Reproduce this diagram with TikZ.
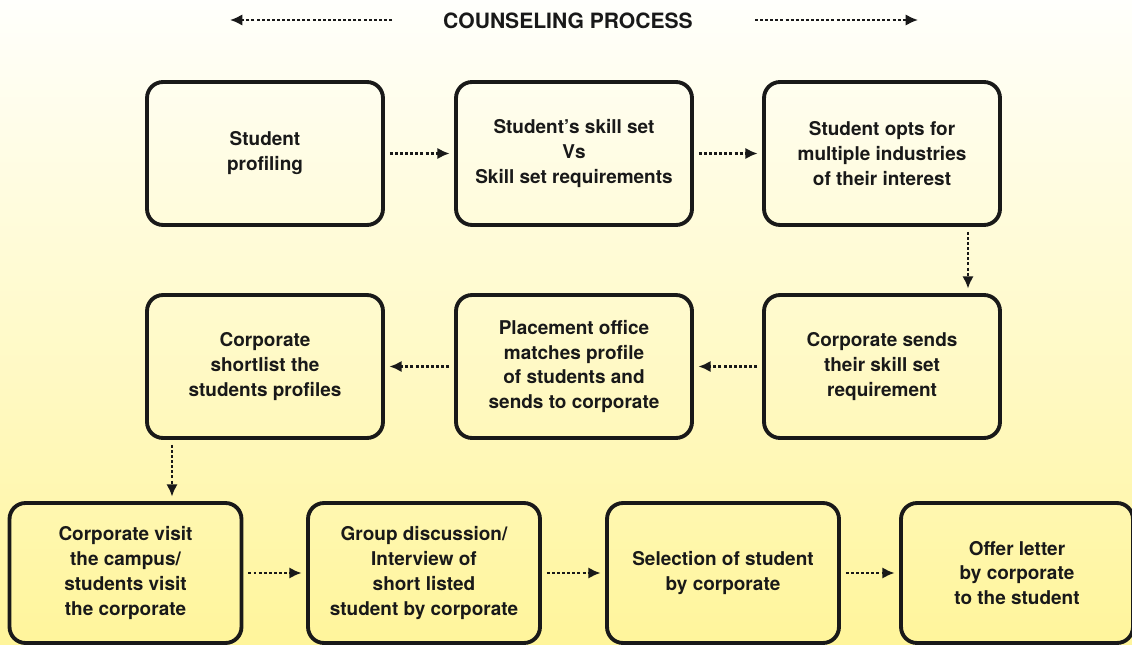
\documentclass[tikz,border=0pt]{standalone}
\usepackage{fontspec}
\setmainfont{TeX Gyre Heros}
\usetikzlibrary{arrows.meta, positioning, calc}
\definecolor{bgtop}{RGB}{255,255,252}
\definecolor{bgbot}{RGB}{255,245,155}
\definecolor{ink}{RGB}{25,25,25}
\begin{document}
\begin{tikzpicture}[
      x=0.02cm, y=-0.02cm,
      stage/.style={draw=ink, line width=2.2pt, rounded corners=0.32cm,
                    minimum width=4.72cm, minimum height=2.86cm, inner sep=0,
                    align=center, text=ink,
                    font=\fontsize{10.8}{14.2}\selectfont\bfseries},
      low/.style={stage, minimum width=4.64cm, minimum height=2.8cm},
      arr/.style={-{Latex[length=7pt,width=6.5pt]}, ink, line width=1.3pt,
                  dash pattern=on 1.7pt off 1.2pt,
                  shorten <=0.1cm, shorten >=0.09cm},
    ]

    % ---- background ----
    \shade[top color=bgtop, bottom color=bgbot] (0,0) rectangle (1132,645);
    \useasboundingbox (0,0) rectangle (1132,645);

    % ---- title ----
    \node[font=\fontsize{12}{14}\selectfont\bfseries, text=ink] (title) at (568,21)
      {COUNSELING PROCESS};
    \coordinate (tl1) at (392,20);
    \coordinate (tl2) at (230,20);
    \coordinate (tr1) at (755,20);
    \coordinate (tr2) at (918,20);
    \draw[arr, shorten <=0, shorten >=0] (tl1) -- (tl2);
    \draw[arr, shorten <=0, shorten >=0] (tr1) -- (tr2);

    % ---- row 1 ----
    \node[stage] (s1) at (265,153.5) {Student\\profiling};
    \node[stage] (s2) at (574,153.5) {Student's skill set\\Vs\\Skill set requirements};
    \node[stage] (s3) at (882,153.5) {Student opts for\\multiple industries\\of their interest};

    % ---- row 2 ----
    \node[stage] (s4) at (882,366.5) {Corporate sends\\their skill set\\requirement};
    \node[stage] (s5) at (574,366.5) {Placement office\\matches profile\\of students and\\sends to corporate};
    \node[stage] (s6) at (265,366.5) {Corporate\\shortlist the\\students profiles};

    % ---- row 3 ----
    \node[low] (s7) at (125.5,573) {Corporate visit\\the campus/\\students visit\\the corporate};
    \node[low] (s8) at (424,573) {Group discussion/\\Interview of\\short listed\\student by corporate};
    \node[low] (s9) at (723,573) {Selection of student\\by corporate};
    \node[low] (s10) at (1017,573) {Offer letter\\by corporate\\to the student};

    % ---- flow ----
    \draw[arr] (s1) -- (s2);
    \draw[arr] (s2) -- (s3);
    \draw[arr] (s3.south -| 968,0) -- (s4.north -| 968,0);
    \draw[arr] (s4) -- (s5);
    \draw[arr] (s5) -- (s6);
    \draw[arr] (s6.south -| 172,0) -- (s7.north -| 172,0);
    \draw[arr] (s7) -- (s8);
    \draw[arr] (s8) -- (s9);
    \draw[arr] (s9) -- (s10);

  \end{tikzpicture}
\end{document}
